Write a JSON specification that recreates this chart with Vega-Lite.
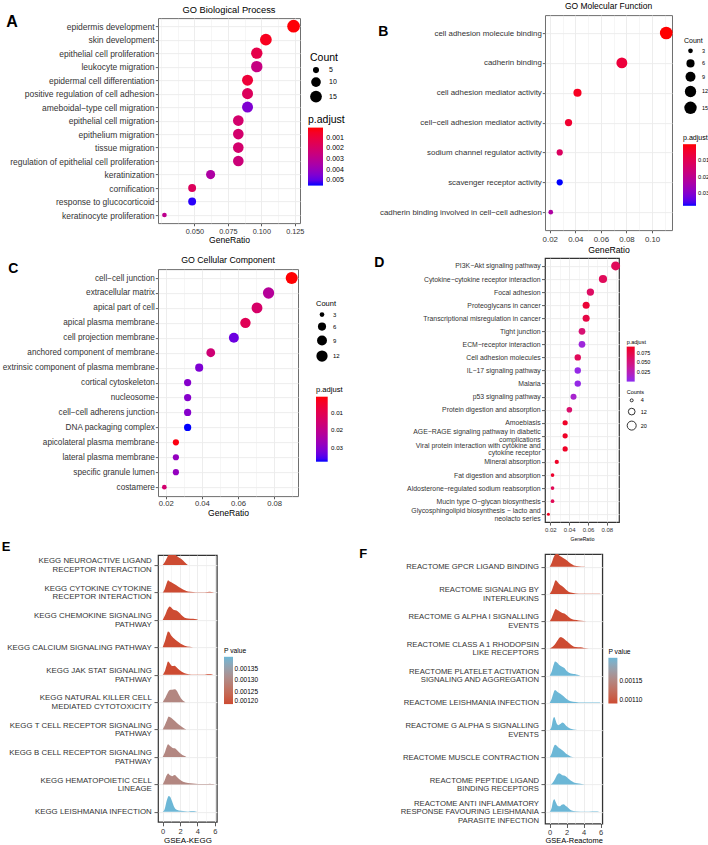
{
"$schema": "https://vega.github.io/schema/vega-lite/v6.json",
"padding": {"left": 0, "top": 1.1, "right": 0, "bottom": 0},
"config": {
  "font": "Liberation Sans",
  "axis": {"labelFont": "Liberation Sans", "titleFont": "Liberation Sans", "labelColor": "#333333", "tickColor": "#333333", "titleColor": "#000000", "titleFontWeight": "normal", "domain": false, "tickSize": 2.7, "tickWidth": 0.8, "gridColor": "#EBEBEB", "gridWidth": 0.9, "labelOverlap": false},
  "legend": {"labelFont": "Liberation Sans", "titleFont": "Liberation Sans", "titleFontWeight": "normal", "labelColor": "#000000", "titleColor": "#000000"},
  "title": {"font": "Liberation Sans", "fontWeight": "normal", "color": "#000000"},
  "view": {"stroke": "#333333"}
},
"datasets": {
"bp": [
{"term": "epidermis development", "GeneRatio": 0.1241, "Count": 18, "padj": 0.0001},
{"term": "skin development", "GeneRatio": 0.1034, "Count": 15, "padj": 0.0004},
{"term": "epithelial cell proliferation", "GeneRatio": 0.0966, "Count": 14, "padj": 0.0013},
{"term": "leukocyte migration", "GeneRatio": 0.0966, "Count": 14, "padj": 0.0026},
{"term": "epidermal cell differentiation", "GeneRatio": 0.0897, "Count": 13, "padj": 0.0009},
{"term": "positive regulation of cell adhesion", "GeneRatio": 0.0897, "Count": 13, "padj": 0.0017},
{"term": "ameboidal−type cell migration", "GeneRatio": 0.0897, "Count": 13, "padj": 0.0045},
{"term": "epithelial cell migration", "GeneRatio": 0.0828, "Count": 12, "padj": 0.0021},
{"term": "epithelium migration", "GeneRatio": 0.0828, "Count": 12, "padj": 0.0021},
{"term": "tissue migration", "GeneRatio": 0.0828, "Count": 12, "padj": 0.0021},
{"term": "regulation of epithelial cell proliferation", "GeneRatio": 0.0828, "Count": 12, "padj": 0.0024},
{"term": "keratinization", "GeneRatio": 0.0621, "Count": 9, "padj": 0.0034},
{"term": "cornification", "GeneRatio": 0.0483, "Count": 7, "padj": 0.0017},
{"term": "response to glucocorticoid", "GeneRatio": 0.0483, "Count": 7, "padj": 0.0054},
{"term": "keratinocyte proliferation", "GeneRatio": 0.0276, "Count": 4, "padj": 0.0029}
],
"mf": [
{"term": "cell adhesion molecule binding", "GeneRatio": 0.1111, "Count": 16, "padj": 0.0003},
{"term": "cadherin binding", "GeneRatio": 0.0764, "Count": 11, "padj": 0.0065},
{"term": "cell adhesion mediator activity", "GeneRatio": 0.0417, "Count": 6, "padj": 0.003},
{"term": "cell−cell adhesion mediator activity", "GeneRatio": 0.0347, "Count": 5, "padj": 0.005},
{"term": "sodium channel regulator activity", "GeneRatio": 0.0278, "Count": 4, "padj": 0.012},
{"term": "scavenger receptor activity", "GeneRatio": 0.0278, "Count": 4, "padj": 0.0375},
{"term": "cadherin binding involved in cell−cell adhesion", "GeneRatio": 0.0208, "Count": 3, "padj": 0.023}
],
"cc": [
{"term": "cell−cell junction", "GeneRatio": 0.0897, "Count": 14, "padj": 0.001},
{"term": "extracellular matrix", "GeneRatio": 0.0769, "Count": 12, "padj": 0.022},
{"term": "apical part of cell", "GeneRatio": 0.0705, "Count": 11, "padj": 0.014},
{"term": "apical plasma membrane", "GeneRatio": 0.0641, "Count": 10, "padj": 0.011},
{"term": "cell projection membrane", "GeneRatio": 0.0577, "Count": 9, "padj": 0.033},
{"term": "anchored component of membrane", "GeneRatio": 0.0449, "Count": 7, "padj": 0.016},
{"term": "extrinsic component of plasma membrane", "GeneRatio": 0.0385, "Count": 6, "padj": 0.031},
{"term": "cortical cytoskeleton", "GeneRatio": 0.0321, "Count": 5, "padj": 0.03},
{"term": "nucleosome", "GeneRatio": 0.0321, "Count": 5, "padj": 0.03},
{"term": "cell−cell adherens junction", "GeneRatio": 0.0321, "Count": 5, "padj": 0.03},
{"term": "DNA packaging complex", "GeneRatio": 0.0321, "Count": 5, "padj": 0.0377},
{"term": "apicolateral plasma membrane", "GeneRatio": 0.0256, "Count": 4, "padj": 0.002},
{"term": "lateral plasma membrane", "GeneRatio": 0.0256, "Count": 4, "padj": 0.028},
{"term": "specific granule lumen", "GeneRatio": 0.0256, "Count": 4, "padj": 0.028},
{"term": "costamere", "GeneRatio": 0.0192, "Count": 3, "padj": 0.015}
],
"kegg": [
{"term": "PI3K−Akt signaling pathway", "GeneRatio": 0.0893, "Count": 20, "padj": 0.066},
{"term": "Cytokine−cytokine receptor interaction", "GeneRatio": 0.0759, "Count": 17, "padj": 0.066},
{"term": "Focal adhesion", "GeneRatio": 0.0625, "Count": 14, "padj": 0.062},
{"term": "Proteoglycans in cancer", "GeneRatio": 0.058, "Count": 13, "padj": 0.082},
{"term": "Transcriptional misregulation in cancer", "GeneRatio": 0.058, "Count": 13, "padj": 0.075},
{"term": "Tight junction", "GeneRatio": 0.0536, "Count": 12, "padj": 0.055},
{"term": "ECM−receptor interaction", "GeneRatio": 0.0536, "Count": 12, "padj": 0.01},
{"term": "Cell adhesion molecules", "GeneRatio": 0.0491, "Count": 11, "padj": 0.066},
{"term": "IL−17 signaling pathway", "GeneRatio": 0.0491, "Count": 11, "padj": 0.005},
{"term": "Malaria", "GeneRatio": 0.0491, "Count": 11, "padj": 0.005},
{"term": "p53 signaling pathway", "GeneRatio": 0.0446, "Count": 10, "padj": 0.015},
{"term": "Protein digestion and absorption", "GeneRatio": 0.0402, "Count": 9, "padj": 0.058},
{"term": "Amoebiasis", "GeneRatio": 0.0357, "Count": 8, "padj": 0.088},
{"term": "AGE−RAGE signaling pathway in diabetic complications", "GeneRatio": 0.0357, "Count": 8, "padj": 0.088},
{"term": "Viral protein interaction with cytokine and cytokine receptor", "GeneRatio": 0.0357, "Count": 8, "padj": 0.088},
{"term": "Mineral absorption", "GeneRatio": 0.0268, "Count": 6, "padj": 0.088},
{"term": "Fat digestion and absorption", "GeneRatio": 0.0223, "Count": 5, "padj": 0.085},
{"term": "Aldosterone−regulated sodium reabsorption", "GeneRatio": 0.0223, "Count": 5, "padj": 0.068},
{"term": "Mucin type O−glycan biosynthesis", "GeneRatio": 0.0223, "Count": 5, "padj": 0.068},
{"term": "Glycosphingolipid biosynthesis − lacto and neolacto series", "GeneRatio": 0.0179, "Count": 4, "padj": 0.0903}
],
"gseaKegg": [
{"term": "KEGG NEUROACTIVE LIGAND RECEPTOR INTERACTION", "rank": 9, "x": 0, "density": 0, "top": 9, "pvalue": 0.0012},
{"term": "KEGG NEUROACTIVE LIGAND RECEPTOR INTERACTION", "rank": 9, "x": 0.31, "density": 0.15, "top": 9.15, "pvalue": 0.0012},
{"term": "KEGG NEUROACTIVE LIGAND RECEPTOR INTERACTION", "rank": 9, "x": 0.54, "density": 0.3, "top": 9.3, "pvalue": 0.0012},
{"term": "KEGG NEUROACTIVE LIGAND RECEPTOR INTERACTION", "rank": 9, "x": 0.69, "density": 0.4, "top": 9.4, "pvalue": 0.0012},
{"term": "KEGG NEUROACTIVE LIGAND RECEPTOR INTERACTION", "rank": 9, "x": 1.0, "density": 0.5, "top": 9.5, "pvalue": 0.0012},
{"term": "KEGG NEUROACTIVE LIGAND RECEPTOR INTERACTION", "rank": 9, "x": 1.23, "density": 0.45, "top": 9.45, "pvalue": 0.0012},
{"term": "KEGG NEUROACTIVE LIGAND RECEPTOR INTERACTION", "rank": 9, "x": 1.46, "density": 0.38, "top": 9.38, "pvalue": 0.0012},
{"term": "KEGG NEUROACTIVE LIGAND RECEPTOR INTERACTION", "rank": 9, "x": 1.77, "density": 0.3, "top": 9.3, "pvalue": 0.0012},
{"term": "KEGG NEUROACTIVE LIGAND RECEPTOR INTERACTION", "rank": 9, "x": 2.15, "density": 0.22, "top": 9.22, "pvalue": 0.0012},
{"term": "KEGG NEUROACTIVE LIGAND RECEPTOR INTERACTION", "rank": 9, "x": 2.54, "density": 0.1, "top": 9.1, "pvalue": 0.0012},
{"term": "KEGG NEUROACTIVE LIGAND RECEPTOR INTERACTION", "rank": 9, "x": 2.9, "density": 0, "top": 9, "pvalue": 0.0012},
{"term": "KEGG CYTOKINE CYTOKINE RECEPTOR INTERACTION", "rank": 8, "x": 0, "density": 0, "top": 8, "pvalue": 0.0012},
{"term": "KEGG CYTOKINE CYTOKINE RECEPTOR INTERACTION", "rank": 8, "x": 0.23, "density": 0.12, "top": 8.12, "pvalue": 0.0012},
{"term": "KEGG CYTOKINE CYTOKINE RECEPTOR INTERACTION", "rank": 8, "x": 0.42, "density": 0.3, "top": 8.3, "pvalue": 0.0012},
{"term": "KEGG CYTOKINE CYTOKINE RECEPTOR INTERACTION", "rank": 8, "x": 0.62, "density": 0.45, "top": 8.45, "pvalue": 0.0012},
{"term": "KEGG CYTOKINE CYTOKINE RECEPTOR INTERACTION", "rank": 8, "x": 0.81, "density": 0.4, "top": 8.4, "pvalue": 0.0012},
{"term": "KEGG CYTOKINE CYTOKINE RECEPTOR INTERACTION", "rank": 8, "x": 1.08, "density": 0.36, "top": 8.36, "pvalue": 0.0012},
{"term": "KEGG CYTOKINE CYTOKINE RECEPTOR INTERACTION", "rank": 8, "x": 1.38, "density": 0.3, "top": 8.3, "pvalue": 0.0012},
{"term": "KEGG CYTOKINE CYTOKINE RECEPTOR INTERACTION", "rank": 8, "x": 1.77, "density": 0.22, "top": 8.22, "pvalue": 0.0012},
{"term": "KEGG CYTOKINE CYTOKINE RECEPTOR INTERACTION", "rank": 8, "x": 2.15, "density": 0.15, "top": 8.15, "pvalue": 0.0012},
{"term": "KEGG CYTOKINE CYTOKINE RECEPTOR INTERACTION", "rank": 8, "x": 2.54, "density": 0.08, "top": 8.08, "pvalue": 0.0012},
{"term": "KEGG CYTOKINE CYTOKINE RECEPTOR INTERACTION", "rank": 8, "x": 2.92, "density": 0.04, "top": 8.04, "pvalue": 0.0012},
{"term": "KEGG CYTOKINE CYTOKINE RECEPTOR INTERACTION", "rank": 8, "x": 3.5, "density": 0.02, "top": 8.02, "pvalue": 0.0012},
{"term": "KEGG CYTOKINE CYTOKINE RECEPTOR INTERACTION", "rank": 8, "x": 4.08, "density": 0.01, "top": 8.01, "pvalue": 0.0012},
{"term": "KEGG CYTOKINE CYTOKINE RECEPTOR INTERACTION", "rank": 8, "x": 4.85, "density": 0.01, "top": 8.01, "pvalue": 0.0012},
{"term": "KEGG CYTOKINE CYTOKINE RECEPTOR INTERACTION", "rank": 8, "x": 5.42, "density": 0.025, "top": 8.025, "pvalue": 0.0012},
{"term": "KEGG CYTOKINE CYTOKINE RECEPTOR INTERACTION", "rank": 8, "x": 5.81, "density": 0.01, "top": 8.01, "pvalue": 0.0012},
{"term": "KEGG CYTOKINE CYTOKINE RECEPTOR INTERACTION", "rank": 8, "x": 6.0, "density": 0, "top": 8, "pvalue": 0.0012},
{"term": "KEGG CHEMOKINE SIGNALING PATHWAY", "rank": 7, "x": 0, "density": 0, "top": 7, "pvalue": 0.0012},
{"term": "KEGG CHEMOKINE SIGNALING PATHWAY", "rank": 7, "x": 0.31, "density": 0.2, "top": 7.2, "pvalue": 0.0012},
{"term": "KEGG CHEMOKINE SIGNALING PATHWAY", "rank": 7, "x": 0.54, "density": 0.38, "top": 7.38, "pvalue": 0.0012},
{"term": "KEGG CHEMOKINE SIGNALING PATHWAY", "rank": 7, "x": 0.81, "density": 0.49, "top": 7.49, "pvalue": 0.0012},
{"term": "KEGG CHEMOKINE SIGNALING PATHWAY", "rank": 7, "x": 1.08, "density": 0.42, "top": 7.42, "pvalue": 0.0012},
{"term": "KEGG CHEMOKINE SIGNALING PATHWAY", "rank": 7, "x": 1.31, "density": 0.36, "top": 7.36, "pvalue": 0.0012},
{"term": "KEGG CHEMOKINE SIGNALING PATHWAY", "rank": 7, "x": 1.58, "density": 0.34, "top": 7.34, "pvalue": 0.0012},
{"term": "KEGG CHEMOKINE SIGNALING PATHWAY", "rank": 7, "x": 1.85, "density": 0.28, "top": 7.28, "pvalue": 0.0012},
{"term": "KEGG CHEMOKINE SIGNALING PATHWAY", "rank": 7, "x": 2.15, "density": 0.18, "top": 7.18, "pvalue": 0.0012},
{"term": "KEGG CHEMOKINE SIGNALING PATHWAY", "rank": 7, "x": 2.54, "density": 0.08, "top": 7.08, "pvalue": 0.0012},
{"term": "KEGG CHEMOKINE SIGNALING PATHWAY", "rank": 7, "x": 2.92, "density": 0.05, "top": 7.05, "pvalue": 0.0012},
{"term": "KEGG CHEMOKINE SIGNALING PATHWAY", "rank": 7, "x": 3.5, "density": 0.04, "top": 7.04, "pvalue": 0.0012},
{"term": "KEGG CHEMOKINE SIGNALING PATHWAY", "rank": 7, "x": 3.88, "density": 0.02, "top": 7.02, "pvalue": 0.0012},
{"term": "KEGG CHEMOKINE SIGNALING PATHWAY", "rank": 7, "x": 4.08, "density": 0, "top": 7, "pvalue": 0.0012},
{"term": "KEGG CALCIUM SIGNALING PATHWAY", "rank": 6, "x": 0, "density": 0, "top": 6, "pvalue": 0.0012},
{"term": "KEGG CALCIUM SIGNALING PATHWAY", "rank": 6, "x": 0.23, "density": 0.2, "top": 6.2, "pvalue": 0.0012},
{"term": "KEGG CALCIUM SIGNALING PATHWAY", "rank": 6, "x": 0.46, "density": 0.45, "top": 6.45, "pvalue": 0.0012},
{"term": "KEGG CALCIUM SIGNALING PATHWAY", "rank": 6, "x": 0.62, "density": 0.58, "top": 6.58, "pvalue": 0.0012},
{"term": "KEGG CALCIUM SIGNALING PATHWAY", "rank": 6, "x": 0.77, "density": 0.55, "top": 6.55, "pvalue": 0.0012},
{"term": "KEGG CALCIUM SIGNALING PATHWAY", "rank": 6, "x": 1.0, "density": 0.42, "top": 6.42, "pvalue": 0.0012},
{"term": "KEGG CALCIUM SIGNALING PATHWAY", "rank": 6, "x": 1.31, "density": 0.32, "top": 6.32, "pvalue": 0.0012},
{"term": "KEGG CALCIUM SIGNALING PATHWAY", "rank": 6, "x": 1.69, "density": 0.22, "top": 6.22, "pvalue": 0.0012},
{"term": "KEGG CALCIUM SIGNALING PATHWAY", "rank": 6, "x": 2.08, "density": 0.13, "top": 6.13, "pvalue": 0.0012},
{"term": "KEGG CALCIUM SIGNALING PATHWAY", "rank": 6, "x": 2.54, "density": 0.06, "top": 6.06, "pvalue": 0.0012},
{"term": "KEGG CALCIUM SIGNALING PATHWAY", "rank": 6, "x": 3.12, "density": 0.02, "top": 6.02, "pvalue": 0.0012},
{"term": "KEGG CALCIUM SIGNALING PATHWAY", "rank": 6, "x": 3.5, "density": 0, "top": 6, "pvalue": 0.0012},
{"term": "KEGG JAK STAT SIGNALING PATHWAY", "rank": 5, "x": 0, "density": 0, "top": 5, "pvalue": 0.0012},
{"term": "KEGG JAK STAT SIGNALING PATHWAY", "rank": 5, "x": 0.23, "density": 0.12, "top": 5.12, "pvalue": 0.0012},
{"term": "KEGG JAK STAT SIGNALING PATHWAY", "rank": 5, "x": 0.46, "density": 0.35, "top": 5.35, "pvalue": 0.0012},
{"term": "KEGG JAK STAT SIGNALING PATHWAY", "rank": 5, "x": 0.62, "density": 0.48, "top": 5.48, "pvalue": 0.0012},
{"term": "KEGG JAK STAT SIGNALING PATHWAY", "rank": 5, "x": 0.85, "density": 0.4, "top": 5.4, "pvalue": 0.0012},
{"term": "KEGG JAK STAT SIGNALING PATHWAY", "rank": 5, "x": 1.08, "density": 0.32, "top": 5.32, "pvalue": 0.0012},
{"term": "KEGG JAK STAT SIGNALING PATHWAY", "rank": 5, "x": 1.38, "density": 0.33, "top": 5.33, "pvalue": 0.0012},
{"term": "KEGG JAK STAT SIGNALING PATHWAY", "rank": 5, "x": 1.62, "density": 0.26, "top": 5.26, "pvalue": 0.0012},
{"term": "KEGG JAK STAT SIGNALING PATHWAY", "rank": 5, "x": 1.96, "density": 0.16, "top": 5.16, "pvalue": 0.0012},
{"term": "KEGG JAK STAT SIGNALING PATHWAY", "rank": 5, "x": 2.35, "density": 0.08, "top": 5.08, "pvalue": 0.0012},
{"term": "KEGG JAK STAT SIGNALING PATHWAY", "rank": 5, "x": 2.73, "density": 0.04, "top": 5.04, "pvalue": 0.0012},
{"term": "KEGG JAK STAT SIGNALING PATHWAY", "rank": 5, "x": 3.31, "density": 0.01, "top": 5.01, "pvalue": 0.0012},
{"term": "KEGG JAK STAT SIGNALING PATHWAY", "rank": 5, "x": 4.85, "density": 0.01, "top": 5.01, "pvalue": 0.0012},
{"term": "KEGG JAK STAT SIGNALING PATHWAY", "rank": 5, "x": 5.15, "density": 0.03, "top": 5.03, "pvalue": 0.0012},
{"term": "KEGG JAK STAT SIGNALING PATHWAY", "rank": 5, "x": 5.54, "density": 0.03, "top": 5.03, "pvalue": 0.0012},
{"term": "KEGG JAK STAT SIGNALING PATHWAY", "rank": 5, "x": 5.81, "density": 0, "top": 5, "pvalue": 0.0012},
{"term": "KEGG NATURAL KILLER CELL MEDIATED CYTOTOXICITY", "rank": 4, "x": 0, "density": 0, "top": 4, "pvalue": 0.0013},
{"term": "KEGG NATURAL KILLER CELL MEDIATED CYTOTOXICITY", "rank": 4, "x": 0.23, "density": 0.12, "top": 4.12, "pvalue": 0.0013},
{"term": "KEGG NATURAL KILLER CELL MEDIATED CYTOTOXICITY", "rank": 4, "x": 0.54, "density": 0.32, "top": 4.32, "pvalue": 0.0013},
{"term": "KEGG NATURAL KILLER CELL MEDIATED CYTOTOXICITY", "rank": 4, "x": 0.81, "density": 0.44, "top": 4.44, "pvalue": 0.0013},
{"term": "KEGG NATURAL KILLER CELL MEDIATED CYTOTOXICITY", "rank": 4, "x": 1.08, "density": 0.45, "top": 4.45, "pvalue": 0.0013},
{"term": "KEGG NATURAL KILLER CELL MEDIATED CYTOTOXICITY", "rank": 4, "x": 1.38, "density": 0.47, "top": 4.47, "pvalue": 0.0013},
{"term": "KEGG NATURAL KILLER CELL MEDIATED CYTOTOXICITY", "rank": 4, "x": 1.62, "density": 0.42, "top": 4.42, "pvalue": 0.0013},
{"term": "KEGG NATURAL KILLER CELL MEDIATED CYTOTOXICITY", "rank": 4, "x": 1.85, "density": 0.28, "top": 4.28, "pvalue": 0.0013},
{"term": "KEGG NATURAL KILLER CELL MEDIATED CYTOTOXICITY", "rank": 4, "x": 2.08, "density": 0.15, "top": 4.15, "pvalue": 0.0013},
{"term": "KEGG NATURAL KILLER CELL MEDIATED CYTOTOXICITY", "rank": 4, "x": 2.35, "density": 0.05, "top": 4.05, "pvalue": 0.0013},
{"term": "KEGG NATURAL KILLER CELL MEDIATED CYTOTOXICITY", "rank": 4, "x": 2.62, "density": 0, "top": 4, "pvalue": 0.0013},
{"term": "KEGG T CELL RECEPTOR SIGNALING PATHWAY", "rank": 3, "x": 0, "density": 0, "top": 3, "pvalue": 0.0013},
{"term": "KEGG T CELL RECEPTOR SIGNALING PATHWAY", "rank": 3, "x": 0.23, "density": 0.15, "top": 3.15, "pvalue": 0.0013},
{"term": "KEGG T CELL RECEPTOR SIGNALING PATHWAY", "rank": 3, "x": 0.5, "density": 0.35, "top": 3.35, "pvalue": 0.0013},
{"term": "KEGG T CELL RECEPTOR SIGNALING PATHWAY", "rank": 3, "x": 0.69, "density": 0.48, "top": 3.48, "pvalue": 0.0013},
{"term": "KEGG T CELL RECEPTOR SIGNALING PATHWAY", "rank": 3, "x": 0.92, "density": 0.44, "top": 3.44, "pvalue": 0.0013},
{"term": "KEGG T CELL RECEPTOR SIGNALING PATHWAY", "rank": 3, "x": 1.23, "density": 0.36, "top": 3.36, "pvalue": 0.0013},
{"term": "KEGG T CELL RECEPTOR SIGNALING PATHWAY", "rank": 3, "x": 1.58, "density": 0.26, "top": 3.26, "pvalue": 0.0013},
{"term": "KEGG T CELL RECEPTOR SIGNALING PATHWAY", "rank": 3, "x": 1.96, "density": 0.16, "top": 3.16, "pvalue": 0.0013},
{"term": "KEGG T CELL RECEPTOR SIGNALING PATHWAY", "rank": 3, "x": 2.35, "density": 0.07, "top": 3.07, "pvalue": 0.0013},
{"term": "KEGG T CELL RECEPTOR SIGNALING PATHWAY", "rank": 3, "x": 2.73, "density": 0, "top": 3, "pvalue": 0.0013},
{"term": "KEGG B CELL RECEPTOR SIGNALING PATHWAY", "rank": 2, "x": 0, "density": 0, "top": 2, "pvalue": 0.0013},
{"term": "KEGG B CELL RECEPTOR SIGNALING PATHWAY", "rank": 2, "x": 0.23, "density": 0.15, "top": 2.15, "pvalue": 0.0013},
{"term": "KEGG B CELL RECEPTOR SIGNALING PATHWAY", "rank": 2, "x": 0.46, "density": 0.36, "top": 2.36, "pvalue": 0.0013},
{"term": "KEGG B CELL RECEPTOR SIGNALING PATHWAY", "rank": 2, "x": 0.62, "density": 0.46, "top": 2.46, "pvalue": 0.0013},
{"term": "KEGG B CELL RECEPTOR SIGNALING PATHWAY", "rank": 2, "x": 0.85, "density": 0.4, "top": 2.4, "pvalue": 0.0013},
{"term": "KEGG B CELL RECEPTOR SIGNALING PATHWAY", "rank": 2, "x": 1.15, "density": 0.33, "top": 2.33, "pvalue": 0.0013},
{"term": "KEGG B CELL RECEPTOR SIGNALING PATHWAY", "rank": 2, "x": 1.38, "density": 0.32, "top": 2.32, "pvalue": 0.0013},
{"term": "KEGG B CELL RECEPTOR SIGNALING PATHWAY", "rank": 2, "x": 1.69, "density": 0.24, "top": 2.24, "pvalue": 0.0013},
{"term": "KEGG B CELL RECEPTOR SIGNALING PATHWAY", "rank": 2, "x": 2.08, "density": 0.12, "top": 2.12, "pvalue": 0.0013},
{"term": "KEGG B CELL RECEPTOR SIGNALING PATHWAY", "rank": 2, "x": 2.46, "density": 0.04, "top": 2.04, "pvalue": 0.0013},
{"term": "KEGG B CELL RECEPTOR SIGNALING PATHWAY", "rank": 2, "x": 2.73, "density": 0, "top": 2, "pvalue": 0.0013},
{"term": "KEGG HEMATOPOIETIC CELL LINEAGE", "rank": 1, "x": 0, "density": 0, "top": 1, "pvalue": 0.0013},
{"term": "KEGG HEMATOPOIETIC CELL LINEAGE", "rank": 1, "x": 0.23, "density": 0.15, "top": 1.15, "pvalue": 0.0013},
{"term": "KEGG HEMATOPOIETIC CELL LINEAGE", "rank": 1, "x": 0.46, "density": 0.33, "top": 1.33, "pvalue": 0.0013},
{"term": "KEGG HEMATOPOIETIC CELL LINEAGE", "rank": 1, "x": 0.62, "density": 0.4, "top": 1.4, "pvalue": 0.0013},
{"term": "KEGG HEMATOPOIETIC CELL LINEAGE", "rank": 1, "x": 0.85, "density": 0.33, "top": 1.33, "pvalue": 0.0013},
{"term": "KEGG HEMATOPOIETIC CELL LINEAGE", "rank": 1, "x": 1.08, "density": 0.3, "top": 1.3, "pvalue": 0.0013},
{"term": "KEGG HEMATOPOIETIC CELL LINEAGE", "rank": 1, "x": 1.38, "density": 0.34, "top": 1.34, "pvalue": 0.0013},
{"term": "KEGG HEMATOPOIETIC CELL LINEAGE", "rank": 1, "x": 1.62, "density": 0.28, "top": 1.28, "pvalue": 0.0013},
{"term": "KEGG HEMATOPOIETIC CELL LINEAGE", "rank": 1, "x": 1.96, "density": 0.18, "top": 1.18, "pvalue": 0.0013},
{"term": "KEGG HEMATOPOIETIC CELL LINEAGE", "rank": 1, "x": 2.35, "density": 0.1, "top": 1.1, "pvalue": 0.0013},
{"term": "KEGG HEMATOPOIETIC CELL LINEAGE", "rank": 1, "x": 2.92, "density": 0.05, "top": 1.05, "pvalue": 0.0013},
{"term": "KEGG HEMATOPOIETIC CELL LINEAGE", "rank": 1, "x": 3.5, "density": 0.03, "top": 1.03, "pvalue": 0.0013},
{"term": "KEGG HEMATOPOIETIC CELL LINEAGE", "rank": 1, "x": 4.08, "density": 0.015, "top": 1.015, "pvalue": 0.0013},
{"term": "KEGG HEMATOPOIETIC CELL LINEAGE", "rank": 1, "x": 5.04, "density": 0.01, "top": 1.01, "pvalue": 0.0013},
{"term": "KEGG HEMATOPOIETIC CELL LINEAGE", "rank": 1, "x": 5.42, "density": 0.025, "top": 1.025, "pvalue": 0.0013},
{"term": "KEGG HEMATOPOIETIC CELL LINEAGE", "rank": 1, "x": 5.81, "density": 0.01, "top": 1.01, "pvalue": 0.0013},
{"term": "KEGG HEMATOPOIETIC CELL LINEAGE", "rank": 1, "x": 6.0, "density": 0, "top": 1, "pvalue": 0.0013},
{"term": "KEGG LEISHMANIA INFECTION", "rank": 0, "x": 0, "density": 0, "top": 0, "pvalue": 0.0014},
{"term": "KEGG LEISHMANIA INFECTION", "rank": 0, "x": 0.23, "density": 0.1, "top": 0.1, "pvalue": 0.0014},
{"term": "KEGG LEISHMANIA INFECTION", "rank": 0, "x": 0.46, "density": 0.4, "top": 0.4, "pvalue": 0.0014},
{"term": "KEGG LEISHMANIA INFECTION", "rank": 0, "x": 0.69, "density": 0.58, "top": 0.58, "pvalue": 0.0014},
{"term": "KEGG LEISHMANIA INFECTION", "rank": 0, "x": 0.85, "density": 0.55, "top": 0.55, "pvalue": 0.0014},
{"term": "KEGG LEISHMANIA INFECTION", "rank": 0, "x": 1.08, "density": 0.38, "top": 0.38, "pvalue": 0.0014},
{"term": "KEGG LEISHMANIA INFECTION", "rank": 0, "x": 1.31, "density": 0.18, "top": 0.18, "pvalue": 0.0014},
{"term": "KEGG LEISHMANIA INFECTION", "rank": 0, "x": 1.54, "density": 0.08, "top": 0.08, "pvalue": 0.0014},
{"term": "KEGG LEISHMANIA INFECTION", "rank": 0, "x": 1.85, "density": 0.05, "top": 0.05, "pvalue": 0.0014},
{"term": "KEGG LEISHMANIA INFECTION", "rank": 0, "x": 2.35, "density": 0.03, "top": 0.03, "pvalue": 0.0014},
{"term": "KEGG LEISHMANIA INFECTION", "rank": 0, "x": 2.92, "density": 0.015, "top": 0.015, "pvalue": 0.0014},
{"term": "KEGG LEISHMANIA INFECTION", "rank": 0, "x": 3.23, "density": 0.03, "top": 0.03, "pvalue": 0.0014},
{"term": "KEGG LEISHMANIA INFECTION", "rank": 0, "x": 3.62, "density": 0.03, "top": 0.03, "pvalue": 0.0014},
{"term": "KEGG LEISHMANIA INFECTION", "rank": 0, "x": 3.88, "density": 0.01, "top": 0.01, "pvalue": 0.0014},
{"term": "KEGG LEISHMANIA INFECTION", "rank": 0, "x": 4.08, "density": 0, "top": 0, "pvalue": 0.0014}
],
"gseaReactome": [
{"term": "REACTOME GPCR LIGAND BINDING", "rank": 9, "x": 0, "density": 0, "top": 9, "pvalue": 0.0011},
{"term": "REACTOME GPCR LIGAND BINDING", "rank": 9, "x": 0.24, "density": 0.15, "top": 9.15, "pvalue": 0.0011},
{"term": "REACTOME GPCR LIGAND BINDING", "rank": 9, "x": 0.47, "density": 0.35, "top": 9.35, "pvalue": 0.0011},
{"term": "REACTOME GPCR LIGAND BINDING", "rank": 9, "x": 0.71, "density": 0.47, "top": 9.47, "pvalue": 0.0011},
{"term": "REACTOME GPCR LIGAND BINDING", "rank": 9, "x": 0.9, "density": 0.5, "top": 9.5, "pvalue": 0.0011},
{"term": "REACTOME GPCR LIGAND BINDING", "rank": 9, "x": 1.1, "density": 0.42, "top": 9.42, "pvalue": 0.0011},
{"term": "REACTOME GPCR LIGAND BINDING", "rank": 9, "x": 1.41, "density": 0.36, "top": 9.36, "pvalue": 0.0011},
{"term": "REACTOME GPCR LIGAND BINDING", "rank": 9, "x": 1.69, "density": 0.3, "top": 9.3, "pvalue": 0.0011},
{"term": "REACTOME GPCR LIGAND BINDING", "rank": 9, "x": 2.08, "density": 0.22, "top": 9.22, "pvalue": 0.0011},
{"term": "REACTOME GPCR LIGAND BINDING", "rank": 9, "x": 2.47, "density": 0.12, "top": 9.12, "pvalue": 0.0011},
{"term": "REACTOME GPCR LIGAND BINDING", "rank": 9, "x": 2.86, "density": 0.05, "top": 9.05, "pvalue": 0.0011},
{"term": "REACTOME GPCR LIGAND BINDING", "rank": 9, "x": 3.45, "density": 0.02, "top": 9.02, "pvalue": 0.0011},
{"term": "REACTOME GPCR LIGAND BINDING", "rank": 9, "x": 4.04, "density": 0.01, "top": 9.01, "pvalue": 0.0011},
{"term": "REACTOME GPCR LIGAND BINDING", "rank": 9, "x": 4.43, "density": 0, "top": 9, "pvalue": 0.0011},
{"term": "REACTOME SIGNALING BY INTERLEUKINS", "rank": 8, "x": 0, "density": 0, "top": 8, "pvalue": 0.0011},
{"term": "REACTOME SIGNALING BY INTERLEUKINS", "rank": 8, "x": 0.24, "density": 0.12, "top": 8.12, "pvalue": 0.0011},
{"term": "REACTOME SIGNALING BY INTERLEUKINS", "rank": 8, "x": 0.47, "density": 0.32, "top": 8.32, "pvalue": 0.0011},
{"term": "REACTOME SIGNALING BY INTERLEUKINS", "rank": 8, "x": 0.71, "density": 0.5, "top": 8.5, "pvalue": 0.0011},
{"term": "REACTOME SIGNALING BY INTERLEUKINS", "rank": 8, "x": 0.86, "density": 0.47, "top": 8.47, "pvalue": 0.0011},
{"term": "REACTOME SIGNALING BY INTERLEUKINS", "rank": 8, "x": 1.1, "density": 0.38, "top": 8.38, "pvalue": 0.0011},
{"term": "REACTOME SIGNALING BY INTERLEUKINS", "rank": 8, "x": 1.41, "density": 0.3, "top": 8.3, "pvalue": 0.0011},
{"term": "REACTOME SIGNALING BY INTERLEUKINS", "rank": 8, "x": 1.73, "density": 0.22, "top": 8.22, "pvalue": 0.0011},
{"term": "REACTOME SIGNALING BY INTERLEUKINS", "rank": 8, "x": 2.08, "density": 0.12, "top": 8.12, "pvalue": 0.0011},
{"term": "REACTOME SIGNALING BY INTERLEUKINS", "rank": 8, "x": 2.47, "density": 0.05, "top": 8.05, "pvalue": 0.0011},
{"term": "REACTOME SIGNALING BY INTERLEUKINS", "rank": 8, "x": 3.06, "density": 0.02, "top": 8.02, "pvalue": 0.0011},
{"term": "REACTOME SIGNALING BY INTERLEUKINS", "rank": 8, "x": 3.84, "density": 0.01, "top": 8.01, "pvalue": 0.0011},
{"term": "REACTOME SIGNALING BY INTERLEUKINS", "rank": 8, "x": 5.8, "density": 0.005, "top": 8.005, "pvalue": 0.0011},
{"term": "REACTOME SIGNALING BY INTERLEUKINS", "rank": 8, "x": 6.0, "density": 0, "top": 8, "pvalue": 0.0011},
{"term": "REACTOME G ALPHA I SIGNALLING EVENTS", "rank": 7, "x": 0, "density": 0, "top": 7, "pvalue": 0.0011},
{"term": "REACTOME G ALPHA I SIGNALLING EVENTS", "rank": 7, "x": 0.24, "density": 0.12, "top": 7.12, "pvalue": 0.0011},
{"term": "REACTOME G ALPHA I SIGNALLING EVENTS", "rank": 7, "x": 0.47, "density": 0.3, "top": 7.3, "pvalue": 0.0011},
{"term": "REACTOME G ALPHA I SIGNALLING EVENTS", "rank": 7, "x": 0.71, "density": 0.45, "top": 7.45, "pvalue": 0.0011},
{"term": "REACTOME G ALPHA I SIGNALLING EVENTS", "rank": 7, "x": 0.94, "density": 0.4, "top": 7.4, "pvalue": 0.0011},
{"term": "REACTOME G ALPHA I SIGNALLING EVENTS", "rank": 7, "x": 1.18, "density": 0.36, "top": 7.36, "pvalue": 0.0011},
{"term": "REACTOME G ALPHA I SIGNALLING EVENTS", "rank": 7, "x": 1.49, "density": 0.3, "top": 7.3, "pvalue": 0.0011},
{"term": "REACTOME G ALPHA I SIGNALLING EVENTS", "rank": 7, "x": 1.73, "density": 0.28, "top": 7.28, "pvalue": 0.0011},
{"term": "REACTOME G ALPHA I SIGNALLING EVENTS", "rank": 7, "x": 2.08, "density": 0.2, "top": 7.2, "pvalue": 0.0011},
{"term": "REACTOME G ALPHA I SIGNALLING EVENTS", "rank": 7, "x": 2.47, "density": 0.1, "top": 7.1, "pvalue": 0.0011},
{"term": "REACTOME G ALPHA I SIGNALLING EVENTS", "rank": 7, "x": 2.86, "density": 0.05, "top": 7.05, "pvalue": 0.0011},
{"term": "REACTOME G ALPHA I SIGNALLING EVENTS", "rank": 7, "x": 3.45, "density": 0.03, "top": 7.03, "pvalue": 0.0011},
{"term": "REACTOME G ALPHA I SIGNALLING EVENTS", "rank": 7, "x": 4.04, "density": 0.01, "top": 7.01, "pvalue": 0.0011},
{"term": "REACTOME G ALPHA I SIGNALLING EVENTS", "rank": 7, "x": 4.63, "density": 0, "top": 7, "pvalue": 0.0011},
{"term": "REACTOME CLASS A 1 RHODOPSIN LIKE RECEPTORS", "rank": 6, "x": 0, "density": 0, "top": 6, "pvalue": 0.0011},
{"term": "REACTOME CLASS A 1 RHODOPSIN LIKE RECEPTORS", "rank": 6, "x": 0.31, "density": 0.05, "top": 6.05, "pvalue": 0.0011},
{"term": "REACTOME CLASS A 1 RHODOPSIN LIKE RECEPTORS", "rank": 6, "x": 0.63, "density": 0.15, "top": 6.15, "pvalue": 0.0011},
{"term": "REACTOME CLASS A 1 RHODOPSIN LIKE RECEPTORS", "rank": 6, "x": 0.94, "density": 0.3, "top": 6.3, "pvalue": 0.0011},
{"term": "REACTOME CLASS A 1 RHODOPSIN LIKE RECEPTORS", "rank": 6, "x": 1.18, "density": 0.4, "top": 6.4, "pvalue": 0.0011},
{"term": "REACTOME CLASS A 1 RHODOPSIN LIKE RECEPTORS", "rank": 6, "x": 1.33, "density": 0.42, "top": 6.42, "pvalue": 0.0011},
{"term": "REACTOME CLASS A 1 RHODOPSIN LIKE RECEPTORS", "rank": 6, "x": 1.57, "density": 0.38, "top": 6.38, "pvalue": 0.0011},
{"term": "REACTOME CLASS A 1 RHODOPSIN LIKE RECEPTORS", "rank": 6, "x": 1.88, "density": 0.3, "top": 6.3, "pvalue": 0.0011},
{"term": "REACTOME CLASS A 1 RHODOPSIN LIKE RECEPTORS", "rank": 6, "x": 2.27, "density": 0.2, "top": 6.2, "pvalue": 0.0011},
{"term": "REACTOME CLASS A 1 RHODOPSIN LIKE RECEPTORS", "rank": 6, "x": 2.67, "density": 0.1, "top": 6.1, "pvalue": 0.0011},
{"term": "REACTOME CLASS A 1 RHODOPSIN LIKE RECEPTORS", "rank": 6, "x": 3.06, "density": 0.05, "top": 6.05, "pvalue": 0.0011},
{"term": "REACTOME CLASS A 1 RHODOPSIN LIKE RECEPTORS", "rank": 6, "x": 3.65, "density": 0.04, "top": 6.04, "pvalue": 0.0011},
{"term": "REACTOME CLASS A 1 RHODOPSIN LIKE RECEPTORS", "rank": 6, "x": 4.04, "density": 0.02, "top": 6.02, "pvalue": 0.0011},
{"term": "REACTOME CLASS A 1 RHODOPSIN LIKE RECEPTORS", "rank": 6, "x": 4.63, "density": 0, "top": 6, "pvalue": 0.0011},
{"term": "REACTOME PLATELET ACTIVATION SIGNALING AND AGGREGATION", "rank": 5, "x": 0, "density": 0, "top": 5, "pvalue": 0.0012},
{"term": "REACTOME PLATELET ACTIVATION SIGNALING AND AGGREGATION", "rank": 5, "x": 0.24, "density": 0.15, "top": 5.15, "pvalue": 0.0012},
{"term": "REACTOME PLATELET ACTIVATION SIGNALING AND AGGREGATION", "rank": 5, "x": 0.47, "density": 0.4, "top": 5.4, "pvalue": 0.0012},
{"term": "REACTOME PLATELET ACTIVATION SIGNALING AND AGGREGATION", "rank": 5, "x": 0.63, "density": 0.52, "top": 5.52, "pvalue": 0.0012},
{"term": "REACTOME PLATELET ACTIVATION SIGNALING AND AGGREGATION", "rank": 5, "x": 0.86, "density": 0.48, "top": 5.48, "pvalue": 0.0012},
{"term": "REACTOME PLATELET ACTIVATION SIGNALING AND AGGREGATION", "rank": 5, "x": 1.1, "density": 0.4, "top": 5.4, "pvalue": 0.0012},
{"term": "REACTOME PLATELET ACTIVATION SIGNALING AND AGGREGATION", "rank": 5, "x": 1.41, "density": 0.34, "top": 5.34, "pvalue": 0.0012},
{"term": "REACTOME PLATELET ACTIVATION SIGNALING AND AGGREGATION", "rank": 5, "x": 1.73, "density": 0.28, "top": 5.28, "pvalue": 0.0012},
{"term": "REACTOME PLATELET ACTIVATION SIGNALING AND AGGREGATION", "rank": 5, "x": 2.04, "density": 0.16, "top": 5.16, "pvalue": 0.0012},
{"term": "REACTOME PLATELET ACTIVATION SIGNALING AND AGGREGATION", "rank": 5, "x": 2.35, "density": 0.1, "top": 5.1, "pvalue": 0.0012},
{"term": "REACTOME PLATELET ACTIVATION SIGNALING AND AGGREGATION", "rank": 5, "x": 2.67, "density": 0.07, "top": 5.07, "pvalue": 0.0012},
{"term": "REACTOME PLATELET ACTIVATION SIGNALING AND AGGREGATION", "rank": 5, "x": 2.98, "density": 0.06, "top": 5.06, "pvalue": 0.0012},
{"term": "REACTOME PLATELET ACTIVATION SIGNALING AND AGGREGATION", "rank": 5, "x": 3.29, "density": 0.03, "top": 5.03, "pvalue": 0.0012},
{"term": "REACTOME PLATELET ACTIVATION SIGNALING AND AGGREGATION", "rank": 5, "x": 3.65, "density": 0, "top": 5, "pvalue": 0.0012},
{"term": "REACTOME LEISHMANIA INFECTION", "rank": 4, "x": 0, "density": 0, "top": 4, "pvalue": 0.0012},
{"term": "REACTOME LEISHMANIA INFECTION", "rank": 4, "x": 0.24, "density": 0.15, "top": 4.15, "pvalue": 0.0012},
{"term": "REACTOME LEISHMANIA INFECTION", "rank": 4, "x": 0.47, "density": 0.38, "top": 4.38, "pvalue": 0.0012},
{"term": "REACTOME LEISHMANIA INFECTION", "rank": 4, "x": 0.63, "density": 0.47, "top": 4.47, "pvalue": 0.0012},
{"term": "REACTOME LEISHMANIA INFECTION", "rank": 4, "x": 0.86, "density": 0.42, "top": 4.42, "pvalue": 0.0012},
{"term": "REACTOME LEISHMANIA INFECTION", "rank": 4, "x": 1.1, "density": 0.36, "top": 4.36, "pvalue": 0.0012},
{"term": "REACTOME LEISHMANIA INFECTION", "rank": 4, "x": 1.41, "density": 0.3, "top": 4.3, "pvalue": 0.0012},
{"term": "REACTOME LEISHMANIA INFECTION", "rank": 4, "x": 1.73, "density": 0.22, "top": 4.22, "pvalue": 0.0012},
{"term": "REACTOME LEISHMANIA INFECTION", "rank": 4, "x": 2.04, "density": 0.13, "top": 4.13, "pvalue": 0.0012},
{"term": "REACTOME LEISHMANIA INFECTION", "rank": 4, "x": 2.47, "density": 0.06, "top": 4.06, "pvalue": 0.0012},
{"term": "REACTOME LEISHMANIA INFECTION", "rank": 4, "x": 3.06, "density": 0.03, "top": 4.03, "pvalue": 0.0012},
{"term": "REACTOME LEISHMANIA INFECTION", "rank": 4, "x": 3.84, "density": 0.01, "top": 4.01, "pvalue": 0.0012},
{"term": "REACTOME LEISHMANIA INFECTION", "rank": 4, "x": 5.02, "density": 0.01, "top": 4.01, "pvalue": 0.0012},
{"term": "REACTOME LEISHMANIA INFECTION", "rank": 4, "x": 5.8, "density": 0.01, "top": 4.01, "pvalue": 0.0012},
{"term": "REACTOME LEISHMANIA INFECTION", "rank": 4, "x": 6.0, "density": 0, "top": 4, "pvalue": 0.0012},
{"term": "REACTOME G ALPHA S SIGNALLING EVENTS", "rank": 3, "x": 0, "density": 0, "top": 3, "pvalue": 0.0012},
{"term": "REACTOME G ALPHA S SIGNALLING EVENTS", "rank": 3, "x": 0.24, "density": 0.15, "top": 3.15, "pvalue": 0.0012},
{"term": "REACTOME G ALPHA S SIGNALLING EVENTS", "rank": 3, "x": 0.39, "density": 0.4, "top": 3.4, "pvalue": 0.0012},
{"term": "REACTOME G ALPHA S SIGNALLING EVENTS", "rank": 3, "x": 0.55, "density": 0.48, "top": 3.48, "pvalue": 0.0012},
{"term": "REACTOME G ALPHA S SIGNALLING EVENTS", "rank": 3, "x": 0.71, "density": 0.35, "top": 3.35, "pvalue": 0.0012},
{"term": "REACTOME G ALPHA S SIGNALLING EVENTS", "rank": 3, "x": 0.86, "density": 0.22, "top": 3.22, "pvalue": 0.0012},
{"term": "REACTOME G ALPHA S SIGNALLING EVENTS", "rank": 3, "x": 1.02, "density": 0.18, "top": 3.18, "pvalue": 0.0012},
{"term": "REACTOME G ALPHA S SIGNALLING EVENTS", "rank": 3, "x": 1.25, "density": 0.22, "top": 3.22, "pvalue": 0.0012},
{"term": "REACTOME G ALPHA S SIGNALLING EVENTS", "rank": 3, "x": 1.49, "density": 0.28, "top": 3.28, "pvalue": 0.0012},
{"term": "REACTOME G ALPHA S SIGNALLING EVENTS", "rank": 3, "x": 1.65, "density": 0.26, "top": 3.26, "pvalue": 0.0012},
{"term": "REACTOME G ALPHA S SIGNALLING EVENTS", "rank": 3, "x": 1.88, "density": 0.18, "top": 3.18, "pvalue": 0.0012},
{"term": "REACTOME G ALPHA S SIGNALLING EVENTS", "rank": 3, "x": 2.2, "density": 0.1, "top": 3.1, "pvalue": 0.0012},
{"term": "REACTOME G ALPHA S SIGNALLING EVENTS", "rank": 3, "x": 2.59, "density": 0.04, "top": 3.04, "pvalue": 0.0012},
{"term": "REACTOME G ALPHA S SIGNALLING EVENTS", "rank": 3, "x": 3.06, "density": 0.01, "top": 3.01, "pvalue": 0.0012},
{"term": "REACTOME G ALPHA S SIGNALLING EVENTS", "rank": 3, "x": 3.45, "density": 0, "top": 3, "pvalue": 0.0012},
{"term": "REACTOME MUSCLE CONTRACTION", "rank": 2, "x": 0, "density": 0, "top": 2, "pvalue": 0.0012},
{"term": "REACTOME MUSCLE CONTRACTION", "rank": 2, "x": 0.24, "density": 0.15, "top": 2.15, "pvalue": 0.0012},
{"term": "REACTOME MUSCLE CONTRACTION", "rank": 2, "x": 0.47, "density": 0.38, "top": 2.38, "pvalue": 0.0012},
{"term": "REACTOME MUSCLE CONTRACTION", "rank": 2, "x": 0.63, "density": 0.46, "top": 2.46, "pvalue": 0.0012},
{"term": "REACTOME MUSCLE CONTRACTION", "rank": 2, "x": 0.86, "density": 0.42, "top": 2.42, "pvalue": 0.0012},
{"term": "REACTOME MUSCLE CONTRACTION", "rank": 2, "x": 1.1, "density": 0.34, "top": 2.34, "pvalue": 0.0012},
{"term": "REACTOME MUSCLE CONTRACTION", "rank": 2, "x": 1.41, "density": 0.28, "top": 2.28, "pvalue": 0.0012},
{"term": "REACTOME MUSCLE CONTRACTION", "rank": 2, "x": 1.73, "density": 0.2, "top": 2.2, "pvalue": 0.0012},
{"term": "REACTOME MUSCLE CONTRACTION", "rank": 2, "x": 2.08, "density": 0.1, "top": 2.1, "pvalue": 0.0012},
{"term": "REACTOME MUSCLE CONTRACTION", "rank": 2, "x": 2.47, "density": 0.03, "top": 2.03, "pvalue": 0.0012},
{"term": "REACTOME MUSCLE CONTRACTION", "rank": 2, "x": 2.86, "density": 0, "top": 2, "pvalue": 0.0012},
{"term": "REACTOME PEPTIDE LIGAND BINDING RECEPTORS", "rank": 1, "x": 0, "density": 0, "top": 1, "pvalue": 0.0012},
{"term": "REACTOME PEPTIDE LIGAND BINDING RECEPTORS", "rank": 1, "x": 0.31, "density": 0.05, "top": 1.05, "pvalue": 0.0012},
{"term": "REACTOME PEPTIDE LIGAND BINDING RECEPTORS", "rank": 1, "x": 0.63, "density": 0.2, "top": 1.2, "pvalue": 0.0012},
{"term": "REACTOME PEPTIDE LIGAND BINDING RECEPTORS", "rank": 1, "x": 0.86, "density": 0.35, "top": 1.35, "pvalue": 0.0012},
{"term": "REACTOME PEPTIDE LIGAND BINDING RECEPTORS", "rank": 1, "x": 1.1, "density": 0.42, "top": 1.42, "pvalue": 0.0012},
{"term": "REACTOME PEPTIDE LIGAND BINDING RECEPTORS", "rank": 1, "x": 1.25, "density": 0.4, "top": 1.4, "pvalue": 0.0012},
{"term": "REACTOME PEPTIDE LIGAND BINDING RECEPTORS", "rank": 1, "x": 1.49, "density": 0.34, "top": 1.34, "pvalue": 0.0012},
{"term": "REACTOME PEPTIDE LIGAND BINDING RECEPTORS", "rank": 1, "x": 1.8, "density": 0.32, "top": 1.32, "pvalue": 0.0012},
{"term": "REACTOME PEPTIDE LIGAND BINDING RECEPTORS", "rank": 1, "x": 2.12, "density": 0.24, "top": 1.24, "pvalue": 0.0012},
{"term": "REACTOME PEPTIDE LIGAND BINDING RECEPTORS", "rank": 1, "x": 2.47, "density": 0.15, "top": 1.15, "pvalue": 0.0012},
{"term": "REACTOME PEPTIDE LIGAND BINDING RECEPTORS", "rank": 1, "x": 2.86, "density": 0.08, "top": 1.08, "pvalue": 0.0012},
{"term": "REACTOME PEPTIDE LIGAND BINDING RECEPTORS", "rank": 1, "x": 3.25, "density": 0.05, "top": 1.05, "pvalue": 0.0012},
{"term": "REACTOME PEPTIDE LIGAND BINDING RECEPTORS", "rank": 1, "x": 3.65, "density": 0.03, "top": 1.03, "pvalue": 0.0012},
{"term": "REACTOME PEPTIDE LIGAND BINDING RECEPTORS", "rank": 1, "x": 4.24, "density": 0, "top": 1, "pvalue": 0.0012},
{"term": "REACTOME ANTI INFLAMMATORY RESPONSE FAVOURING LEISHMANIA PARASITE INFECTION", "rank": 0, "x": 0, "density": 0, "top": 0, "pvalue": 0.0012},
{"term": "REACTOME ANTI INFLAMMATORY RESPONSE FAVOURING LEISHMANIA PARASITE INFECTION", "rank": 0, "x": 0.24, "density": 0.15, "top": 0.15, "pvalue": 0.0012},
{"term": "REACTOME ANTI INFLAMMATORY RESPONSE FAVOURING LEISHMANIA PARASITE INFECTION", "rank": 0, "x": 0.39, "density": 0.38, "top": 0.38, "pvalue": 0.0012},
{"term": "REACTOME ANTI INFLAMMATORY RESPONSE FAVOURING LEISHMANIA PARASITE INFECTION", "rank": 0, "x": 0.55, "density": 0.46, "top": 0.46, "pvalue": 0.0012},
{"term": "REACTOME ANTI INFLAMMATORY RESPONSE FAVOURING LEISHMANIA PARASITE INFECTION", "rank": 0, "x": 0.71, "density": 0.36, "top": 0.36, "pvalue": 0.0012},
{"term": "REACTOME ANTI INFLAMMATORY RESPONSE FAVOURING LEISHMANIA PARASITE INFECTION", "rank": 0, "x": 0.94, "density": 0.22, "top": 0.22, "pvalue": 0.0012},
{"term": "REACTOME ANTI INFLAMMATORY RESPONSE FAVOURING LEISHMANIA PARASITE INFECTION", "rank": 0, "x": 1.18, "density": 0.2, "top": 0.2, "pvalue": 0.0012},
{"term": "REACTOME ANTI INFLAMMATORY RESPONSE FAVOURING LEISHMANIA PARASITE INFECTION", "rank": 0, "x": 1.41, "density": 0.26, "top": 0.26, "pvalue": 0.0012},
{"term": "REACTOME ANTI INFLAMMATORY RESPONSE FAVOURING LEISHMANIA PARASITE INFECTION", "rank": 0, "x": 1.65, "density": 0.28, "top": 0.28, "pvalue": 0.0012},
{"term": "REACTOME ANTI INFLAMMATORY RESPONSE FAVOURING LEISHMANIA PARASITE INFECTION", "rank": 0, "x": 1.88, "density": 0.22, "top": 0.22, "pvalue": 0.0012},
{"term": "REACTOME ANTI INFLAMMATORY RESPONSE FAVOURING LEISHMANIA PARASITE INFECTION", "rank": 0, "x": 2.2, "density": 0.14, "top": 0.14, "pvalue": 0.0012},
{"term": "REACTOME ANTI INFLAMMATORY RESPONSE FAVOURING LEISHMANIA PARASITE INFECTION", "rank": 0, "x": 2.51, "density": 0.06, "top": 0.06, "pvalue": 0.0012},
{"term": "REACTOME ANTI INFLAMMATORY RESPONSE FAVOURING LEISHMANIA PARASITE INFECTION", "rank": 0, "x": 3.06, "density": 0.02, "top": 0.02, "pvalue": 0.0012},
{"term": "REACTOME ANTI INFLAMMATORY RESPONSE FAVOURING LEISHMANIA PARASITE INFECTION", "rank": 0, "x": 4.24, "density": 0.01, "top": 0.01, "pvalue": 0.0012},
{"term": "REACTOME ANTI INFLAMMATORY RESPONSE FAVOURING LEISHMANIA PARASITE INFECTION", "rank": 0, "x": 5.02, "density": 0.02, "top": 0.02, "pvalue": 0.0012},
{"term": "REACTOME ANTI INFLAMMATORY RESPONSE FAVOURING LEISHMANIA PARASITE INFECTION", "rank": 0, "x": 5.61, "density": 0.02, "top": 0.02, "pvalue": 0.0012},
{"term": "REACTOME ANTI INFLAMMATORY RESPONSE FAVOURING LEISHMANIA PARASITE INFECTION", "rank": 0, "x": 5.88, "density": 0, "top": 0, "pvalue": 0.0012}
]
},
"hconcat": [
 {"vconcat": [
   {"width": 1, "height": 3, "view": {"stroke": null}, "data": {"values": []}, "mark": "point", "encoding": {}},
   {"width": 142, "height": 205,
    "view": {"stroke": "#6E6E6E"},
    "title": {"text": "GO Biological Process", "fontSize": 9.3, "frame": "group", "anchor": "middle", "offset": -2},
    "data": {"name": "bp"},
    "mark": {"type": "circle", "opacity": 1},
    "encoding": {
      "y": {"field": "term", "type": "nominal", "sort": null, "scale": {"type": "point", "padding": 0.6},
            "axis": {"title": "A", "titleAngle": 0, "titleX": -152.3, "titleY": 8, "titleAlign": "left", "titleBaseline": "alphabetic", "titleFontSize": 16, "titleFontWeight": "bold", "grid": true, "labelFontSize": 8.5, "labelPadding": 1.3, "labelLimit": 400}},
      "x": {"field": "GeneRatio", "type": "quantitative", "scale": {"domain": [0.0228, 0.1289], "nice": false, "zero": false},
            "axis": {"title": "GeneRatio", "grid": true, "values": [0.025, 0.0375, 0.05, 0.0625, 0.075, 0.0875, 0.1, 0.1125, 0.125], "format": ".3f",
                     "labelExpr": "indexof([0.05, 0.075, 0.1, 0.125], datum.value) >= 0 ? datum.label : ''",
                     "tickOpacity": {"condition": {"test": "indexof([0.05, 0.075, 0.1, 0.125], datum.value) >= 0", "value": 1}, "value": 0},
                     "gridWidth": {"condition": {"test": "indexof([0.05, 0.075, 0.1, 0.125], datum.value) >= 0", "value": 0.9}, "value": 0.45},
                     "labelFontSize": 7.3, "titleFontSize": 8.6, "labelPadding": 2.2, "titlePadding": 0.2}},
      "size": {"field": "Count", "type": "quantitative", "scale": {"type": "sqrt", "zero": false, "domain": [4, 18], "range": [22, 161]},
               "legend": {"orient": "none", "legendX": 152, "legendY": 35, "direction": "vertical", "title": "Count", "titleFontSize": 10.5, "labelFontSize": 7, "values": [5, 10, 15], "symbolFillColor": "black", "symbolStrokeColor": "black", "symbolStrokeWidth": 0, "symbolOpacity": 1, "rowPadding": 3.5, "labelOffset": 7, "titlePadding": 3}},
      "color": {"field": "padj", "type": "quantitative", "scale": {"domain": [0.0055, 0.00005], "range": ["blue", "red"], "interpolate": "lab"},
                "legend": {"orient": "none", "legendX": 150, "legendY": 97, "direction": "vertical", "title": "p.adjust", "titleFontSize": 10.5, "labelFontSize": 7, "values": [0.001, 0.002, 0.003, 0.004, 0.005], "gradientLength": 58, "gradientThickness": 15, "gradientStrokeWidth": 0, "labelOffset": 3.3, "titlePadding": 2}}
    }},
   {"width": 1, "height": 46, "view": {"stroke": null}, "data": {"values": []}, "mark": "point", "encoding": {}},
   {"width": 140, "height": 227,
    "view": {"stroke": "#6E6E6E"},
    "title": {"text": "GO Cellular Component", "fontSize": 8.8, "frame": "group", "anchor": "middle", "offset": -3.2},
    "data": {"name": "cc"},
    "mark": {"type": "circle", "opacity": 1},
    "encoding": {
      "y": {"field": "term", "type": "nominal", "sort": null, "scale": {"type": "point", "padding": 0.6},
            "axis": {"title": "C", "titleAngle": 0, "titleX": -150.3, "titleY": 3.7, "titleAlign": "left", "titleBaseline": "alphabetic", "titleFontSize": 14, "titleFontWeight": "bold", "grid": true, "labelFontSize": 8.2, "labelPadding": 1, "labelLimit": 400}},
      "x": {"field": "GeneRatio", "type": "quantitative", "scale": {"domain": [0.0157, 0.0932], "nice": false, "zero": false},
            "axis": {"title": "GeneRatio", "grid": true, "values": [0.02, 0.03, 0.04, 0.05, 0.06, 0.07, 0.08, 0.09], "format": ".2f",
                     "labelExpr": "indexof([0.02, 0.04, 0.06, 0.08], datum.value) >= 0 ? datum.label : ''",
                     "tickOpacity": {"condition": {"test": "indexof([0.02, 0.04, 0.06, 0.08], datum.value) >= 0", "value": 1}, "value": 0},
                     "gridWidth": {"condition": {"test": "indexof([0.02, 0.04, 0.06, 0.08], datum.value) >= 0", "value": 0.9}, "value": 0.45},
                     "labelFontSize": 7.7, "titleFontSize": 8.6, "labelPadding": 1, "titlePadding": 1.2}},
      "size": {"field": "Count", "type": "quantitative", "scale": {"type": "sqrt", "zero": false, "domain": [3, 14], "range": [22, 144]},
               "legend": {"orient": "none", "legendX": 158, "legendY": 31, "direction": "vertical", "title": "Count", "titleFontSize": 7.5, "labelFontSize": 6, "values": [3, 6, 9, 12], "symbolFillColor": "black", "symbolStrokeColor": "black", "symbolStrokeWidth": 0, "symbolOpacity": 1, "rowPadding": 4.5, "labelOffset": 5, "titlePadding": 4}},
      "color": {"field": "padj", "type": "quantitative", "scale": {"domain": [0.0377, 0.0009], "range": ["blue", "red"], "interpolate": "lab"},
                "legend": {"orient": "none", "legendX": 158, "legendY": 117, "direction": "vertical", "title": "p.adjust", "titleFontSize": 7.6, "labelFontSize": 6.2, "values": [0.01, 0.02, 0.03], "gradientLength": 65, "gradientThickness": 11.7, "gradientStrokeWidth": 0, "labelOffset": 3.3, "titlePadding": 3}}
    }},
   {"width": 1, "height": 58.3, "view": {"stroke": null}, "data": {"values": []}, "mark": "point", "encoding": {}},
   {"width": 58.8, "height": 266.7,
    "view": {"stroke": "#333333", "strokeWidth": 1.2},
    "data": {"name": "gseaKegg"},
    "mark": {"type": "area", "interpolate": "monotone", "clip": true, "opacity": 1},
    "encoding": {
      "x": {"field": "x", "type": "quantitative", "scale": {"domain": [-0.54, 6.23], "nice": false, "zero": false},
            "axis": {"title": "GSEA-KEGG", "grid": true, "values": [0, 1, 2, 3, 4, 5, 6], "tickSize": 4,
                     "labelExpr": "datum.value % 2 == 0 ? datum.label : ''",
                     "tickOpacity": {"condition": {"test": "datum.value % 2 == 0", "value": 1}, "value": 0},
                     "gridWidth": {"condition": {"test": "datum.value % 2 == 0", "value": 0.9}, "value": 0.45},
                     "labelFontSize": 7.5, "titleFontSize": 8, "labelPadding": 2, "titlePadding": 1}},
      "y": {"field": "top", "type": "quantitative", "scale": {"domain": [-0.365, 9.365], "nice": false, "zero": false},
            "axis": {"title": "E", "titleAngle": 0, "titleX": -156.7, "titleY": -4.3, "titleAlign": "left", "titleBaseline": "alphabetic", "titleFontSize": 13, "titleFontWeight": "bold",
                     "grid": true, "tickSize": 4, "values": [0, 1, 2, 3, 4, 5, 6, 7, 8, 9], "labelFontSize": 7.9, "labelLineHeight": 8.7, "labelPadding": 2.7, "labelLimit": 400,
                     "labelOffset": {"condition": {"test": "datum.value != 0 && datum.value != 6", "value": -4.35}, "value": 0},
                     "labelExpr": "['KEGG LEISHMANIA INFECTION', ['KEGG HEMATOPOIETIC CELL', 'LINEAGE'], ['KEGG B CELL RECEPTOR SIGNALING', 'PATHWAY'], ['KEGG T CELL RECEPTOR SIGNALING', 'PATHWAY'], ['KEGG NATURAL KILLER CELL', 'MEDIATED CYTOTOXICITY'], ['KEGG JAK STAT SIGNALING', 'PATHWAY'], 'KEGG CALCIUM SIGNALING PATHWAY', ['KEGG CHEMOKINE SIGNALING', 'PATHWAY'], ['KEGG CYTOKINE CYTOKINE', 'RECEPTOR INTERACTION'], ['KEGG NEUROACTIVE LIGAND', 'RECEPTOR INTERACTION']][datum.value]"}},
      "y2": {"field": "rank"},
      "detail": {"field": "term", "type": "nominal"},
      "fill": {"field": "pvalue", "type": "quantitative", "scale": {"domain": [0.0012, 0.0014], "range": ["#CD4B32", "#6CB7D6"], "interpolate": "lab"},
               "legend": {"orient": "none", "legendX": 66, "legendY": 93, "direction": "vertical", "title": "P value", "titleFontSize": 6.7, "labelFontSize": 6.5, "values": [0.0012, 0.00125, 0.0013, 0.00135], "format": ".5f", "gradientLength": 47.3, "gradientThickness": 9, "gradientStrokeWidth": 0, "labelOffset": 1.6, "titlePadding": 2}}
    }}
 ], "spacing": 0, "bounds": "flush", "resolve": {"scale": {"x": "independent", "y": "independent", "color": "independent", "size": "independent", "fill": "independent"}}},
 {"vconcat": [
   {"width": 127, "height": 215,
    "view": {"stroke": "#6E6E6E"},
    "title": {"text": "GO Molecular Function", "fontSize": 8.5, "frame": "group", "anchor": "middle", "offset": 4.4},
    "data": {"name": "mf"},
    "mark": {"type": "circle", "opacity": 1},
    "encoding": {
      "y": {"field": "term", "type": "nominal", "sort": null, "scale": {"type": "point", "padding": 0.6},
            "axis": {"title": "B", "titleAngle": 0, "titleX": -167.3, "titleY": 20, "titleAlign": "left", "titleBaseline": "alphabetic", "titleFontSize": 14, "titleFontWeight": "bold", "grid": true, "labelFontSize": 7.9, "labelPadding": 1, "labelLimit": 400}},
      "x": {"field": "GeneRatio", "type": "quantitative", "scale": {"domain": [0.0163, 0.1156], "nice": false, "zero": false},
            "axis": {"title": "GeneRatio", "grid": true, "values": [0.02, 0.03, 0.04, 0.05, 0.06, 0.07, 0.08, 0.09, 0.1, 0.11], "format": ".2f",
                     "labelExpr": "indexof([0.02, 0.04, 0.06, 0.08, 0.1], datum.value) >= 0 ? datum.label : ''",
                     "tickOpacity": {"condition": {"test": "indexof([0.02, 0.04, 0.06, 0.08, 0.1], datum.value) >= 0", "value": 1}, "value": 0},
                     "gridWidth": {"condition": {"test": "indexof([0.02, 0.04, 0.06, 0.08, 0.1], datum.value) >= 0", "value": 0.9}, "value": 0.45},
                     "labelFontSize": 7.9, "titleFontSize": 8.7, "labelPadding": 3.2, "titlePadding": 1.4}},
      "size": {"field": "Count", "type": "quantitative", "scale": {"type": "sqrt", "zero": false, "domain": [3, 16], "range": [22, 161]},
               "legend": {"orient": "none", "legendX": 139, "legendY": 22, "direction": "vertical", "title": "Count", "titleFontSize": 7, "labelFontSize": 5.5, "values": [3, 6, 9, 12, 15], "symbolFillColor": "black", "symbolStrokeColor": "black", "symbolStrokeWidth": 0, "symbolOpacity": 1, "rowPadding": 3.8, "labelOffset": 5, "titlePadding": 4}},
      "color": {"field": "padj", "type": "quantitative", "scale": {"domain": [0.0375, 0.0003], "range": ["blue", "red"], "interpolate": "lab"},
                "legend": {"orient": "none", "legendX": 138, "legendY": 119, "direction": "vertical", "title": "p.adjust", "titleFontSize": 7.1, "labelFontSize": 5.8, "values": [0.01, 0.02, 0.03], "gradientLength": 61.6, "gradientThickness": 13, "gradientStrokeWidth": 0, "labelOffset": 2, "titlePadding": 3}}
    }},
   {"width": 1, "height": 28, "view": {"stroke": null}, "data": {"values": []}, "mark": "point", "encoding": {}},
   {"width": 74, "height": 264,
    "view": {"stroke": "#333333", "strokeWidth": 1.2},
    "data": {"name": "kegg"},
    "mark": {"type": "circle", "opacity": 1},
    "encoding": {
      "y": {"field": "term", "type": "nominal", "sort": null, "scale": {"type": "point", "padding": 0.6},
            "axis": {"title": "D", "titleAngle": 0, "titleX": -171.3, "titleY": 8.7, "titleAlign": "left", "titleBaseline": "alphabetic", "titleFontSize": 14, "titleFontWeight": "bold",
                     "grid": true, "tickSize": 3.5, "labelFontSize": 6.9, "labelLineHeight": 7.7, "labelPadding": 1.3, "labelLimit": 400,
                     "labelOffset": {"condition": {"test": "indexof(datum.value, 'AGE') == 0 || indexof(datum.value, 'Viral') == 0 || indexof(datum.value, 'Glyco') == 0", "value": -3.85}, "value": 0},
                     "labelExpr": "indexof(datum.label, 'AGE−RAGE') == 0 ? ['AGE−RAGE signaling pathway in diabetic', 'complications'] : indexof(datum.label, 'Viral') == 0 ? ['Viral protein interaction with cytokine and', 'cytokine receptor'] : indexof(datum.label, 'Glyco') == 0 ? ['Glycosphingolipid biosynthesis − lacto and', 'neolacto series'] : datum.label"}},
      "x": {"field": "GeneRatio", "type": "quantitative", "scale": {"domain": [0.0143, 0.0929], "nice": false, "zero": false},
            "axis": {"title": "GeneRatio", "grid": true, "tickSize": 3, "values": [0.02, 0.03, 0.04, 0.05, 0.06, 0.07, 0.08, 0.09], "format": ".2f",
                     "labelExpr": "indexof([0.02, 0.04, 0.06, 0.08], datum.value) >= 0 ? datum.label : ''",
                     "tickOpacity": {"condition": {"test": "indexof([0.02, 0.04, 0.06, 0.08], datum.value) >= 0", "value": 1}, "value": 0},
                     "gridWidth": {"condition": {"test": "indexof([0.02, 0.04, 0.06, 0.08], datum.value) >= 0", "value": 0.9}, "value": 0.45},
                     "labelFontSize": 6, "titleFontSize": 5, "labelPadding": 1.8, "titlePadding": 3.5}},
      "size": {"field": "Count", "type": "quantitative", "scale": {"zero": false, "domain": [4, 20], "range": [9, 81]},
               "legend": {"orient": "none", "legendX": 81.7, "legendY": 131.5, "direction": "vertical", "title": "Counts", "titleFontSize": 5.5, "labelFontSize": 5.5, "values": [4, 12, 20], "symbolFillColor": "transparent", "symbolStrokeColor": "black", "symbolStrokeWidth": 0.8, "symbolOpacity": 1, "rowPadding": 2, "labelOffset": 4, "titlePadding": 2.5}},
      "color": {"field": "padj", "type": "quantitative", "scale": {"domain": [0.0013, 0.0903], "range": ["#8B2BEF", "#F00020"], "interpolate": "lab"},
                "legend": {"orient": "none", "legendX": 81.7, "legendY": 82, "direction": "vertical", "title": "p.adjust", "titleFontSize": 5.5, "labelFontSize": 5.5, "values": [0.025, 0.05, 0.075], "format": ".3f", "gradientLength": 35, "gradientThickness": 8, "gradientStrokeWidth": 0, "labelOffset": 2, "titlePadding": 1}}
    }},
   {"width": 1, "height": 31.3, "view": {"stroke": null}, "data": {"values": []}, "mark": "point", "encoding": {}},
   {"width": 57.3, "height": 269.4,
    "view": {"stroke": "#333333", "strokeWidth": 1.2},
    "data": {"name": "gseaReactome"},
    "mark": {"type": "area", "interpolate": "monotone", "clip": true, "opacity": 1},
    "encoding": {
      "x": {"field": "x", "type": "quantitative", "scale": {"domain": [-0.55, 6.2], "nice": false, "zero": false},
            "axis": {"title": "GSEA-Reactome", "grid": true, "tickSize": 4, "values": [0, 1, 2, 3, 4, 5, 6],
                     "labelExpr": "datum.value % 2 == 0 ? datum.label : ''",
                     "tickOpacity": {"condition": {"test": "datum.value % 2 == 0", "value": 1}, "value": 0},
                     "gridWidth": {"condition": {"test": "datum.value % 2 == 0", "value": 0.9}, "value": 0.45},
                     "labelFontSize": 7.5, "titleFontSize": 7.5, "labelPadding": 1.5, "titlePadding": 0.5}},
      "y": {"field": "top", "type": "quantitative", "scale": {"domain": [-0.43, 9.465], "nice": false, "zero": false},
            "axis": {"title": "F", "titleAngle": 0, "titleX": -186.3, "titleY": 3.4, "titleAlign": "left", "titleBaseline": "alphabetic", "titleFontSize": 13, "titleFontWeight": "bold",
                     "grid": true, "tickSize": 4, "values": [0, 1, 2, 3, 4, 5, 6, 7, 8, 9], "labelFontSize": 7.7, "labelLineHeight": 8.7, "labelPadding": 2.5, "labelLimit": 400,
                     "labelOffset": {"condition": [{"test": "datum.value == 0", "value": -8.7}, {"test": "datum.value == 2 || datum.value == 4 || datum.value == 9", "value": 0}], "value": -4.35},
                     "labelExpr": "[['REACTOME ANTI INFLAMMATORY', 'RESPONSE FAVOURING LEISHMANIA', 'PARASITE INFECTION'], ['REACTOME PEPTIDE LIGAND', 'BINDING RECEPTORS'], 'REACTOME MUSCLE CONTRACTION', ['REACTOME G ALPHA S SIGNALLING', 'EVENTS'], 'REACTOME LEISHMANIA INFECTION', ['REACTOME PLATELET ACTIVATION', 'SIGNALING AND AGGREGATION'], ['REACTOME CLASS A 1 RHODOPSIN', 'LIKE RECEPTORS'], ['REACTOME G ALPHA I SIGNALLING', 'EVENTS'], ['REACTOME SIGNALING BY', 'INTERLEUKINS'], 'REACTOME GPCR LIGAND BINDING'][datum.value]"}},
      "y2": {"field": "rank"},
      "detail": {"field": "term", "type": "nominal"},
      "fill": {"field": "pvalue", "type": "quantitative", "scale": {"domain": [0.0011, 0.0012], "range": ["#CD4B32", "#6CB7D6"], "interpolate": "lab"},
               "legend": {"orient": "none", "legendX": 63.4, "legendY": 95, "direction": "vertical", "title": "P value", "titleFontSize": 6.7, "labelFontSize": 6.5, "values": [0.0011, 0.00115], "format": ".5f", "gradientLength": 45.7, "gradientThickness": 9, "gradientStrokeWidth": 0, "labelOffset": 2, "titlePadding": 2}}
    }}
 ], "spacing": 0, "bounds": "flush", "resolve": {"scale": {"x": "independent", "y": "independent", "color": "independent", "size": "independent", "fill": "independent"}}}
],
"spacing": 12,
"resolve": {"scale": {"x": "independent", "y": "independent", "color": "independent", "size": "independent", "fill": "independent"}}
}
